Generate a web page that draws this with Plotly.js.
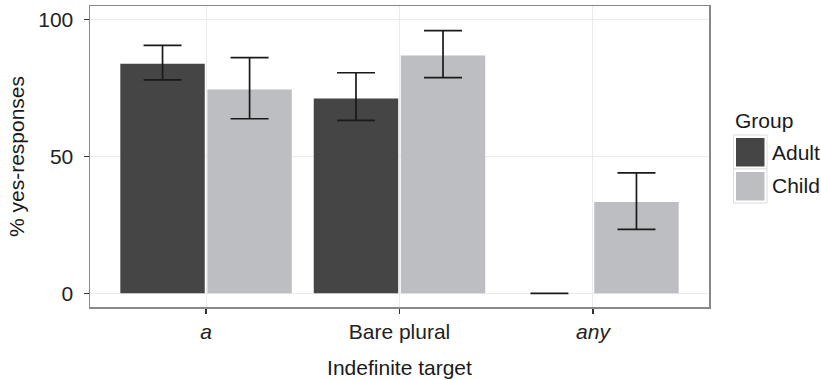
<!DOCTYPE html>
<html>
<head>
<meta charset="utf-8">
<script src="https://cdn.plot.ly/plotly-3.0.1.min.js"></script>
<style>html,body{margin:0;padding:0;background:#fff;}</style>
</head>
<body>
<div id="chart" style="width:821px;height:380px;"></div>
<script>
// ---- data ----
const categories = ["a", "Bare plural", "any"];
const tickLabels = ["<i>a</i>", "Bare plural", "<i>any</i>"];
const groups = ["Adult", "Child"];
const adultValues = [83.9, 71.2, 0];
const adultUpper = [90.6, 80.6, 0];
const adultLower = [78.0, 63.2, 0];
const childValues = [74.5, 86.9, 33.4];
const childUpper = [86.1, 96.0, 44.0];
const childLower = [63.8, 78.8, 23.4];

const colors = {Adult: "#454545", Child: "#bdbec1"};
const FONT = "Liberation Sans, Arial, Helvetica, sans-serif";

function errPlus(v, u) { return v.map((x, i) => u[i] - x); }
function errMinus(v, l) { return v.map((x, i) => x - l[i]); }

const errStyle = {type: "data", symmetric: false, color: "#1a1a1a", thickness: 1.7, width: 19, visible: true};

const traces = [
  {
    type: "bar", name: "Adult", x: categories, y: adultValues,
    marker: {color: colors.Adult},
    error_y: Object.assign({}, errStyle, {array: errPlus(adultValues, adultUpper), arrayminus: errMinus(adultValues, adultLower)}),
    showlegend: false, hoverinfo: "skip"
  },
  {
    type: "bar", name: "Child", x: categories, y: childValues,
    marker: {color: colors.Child},
    error_y: Object.assign({}, errStyle, {array: errPlus(childValues, childUpper), arrayminus: errMinus(childValues, childLower)}),
    showlegend: false, hoverinfo: "skip"
  }
];

// plot area pixel geometry
const L = 90, R = 709, T = 6, B = 307;
const px = p => (p - L) / (R - L);
const py = p => (B - p) / (B - T);

const shapes = [];
const annotations = [];
// custom legend
annotations.push({xref: "paper", yref: "paper", x: px(733), y: py(120.5), xanchor: "left", yanchor: "middle",
  text: "Group", showarrow: false, font: {family: FONT, size: 21, color: "#1a1a1a"}});
groups.forEach((g, i) => {
  const top = 135 + i * 34;
  shapes.push({type: "rect", xref: "paper", yref: "paper", x0: px(733.5), x1: px(767), y0: py(top), y1: py(top + 34),
    line: {color: "#dcdcdc", width: 1}, fillcolor: "#ffffff", layer: "above"});
  shapes.push({type: "rect", xref: "paper", yref: "paper", x0: px(736), x1: px(764.5), y0: py(top + 3), y1: py(top + 31.5),
    line: {width: 0}, fillcolor: colors[g], layer: "above"});
  annotations.push({xref: "paper", yref: "paper", x: px(770), y: py(top + 17), xanchor: "left", yanchor: "middle",
    text: g, showarrow: false, font: {family: FONT, size: 21, color: "#1a1a1a"}});
});

const layout = {
  width: 821, height: 380,
  margin: {l: L, r: 821 - R, t: T, b: 380 - B, pad: 0},
  paper_bgcolor: "#ffffff", plot_bgcolor: "#ffffff",
  font: {family: FONT, size: 21, color: "#222"},
  barmode: "group", bargap: 0.1, bargroupgap: 0.03,
  showlegend: false,
  xaxis: {
    type: "category", range: [-0.6, 2.6],
    tickmode: "array", tickvals: categories, ticktext: tickLabels,
    showgrid: true, gridcolor: "#ebebeb", gridwidth: 1,
    ticks: "outside", ticklen: 5, tickwidth: 1.5, tickcolor: "#333",
    showline: true, mirror: true, linecolor: "#888", linewidth: 1.5,
    tickfont: {family: FONT, size: 21, color: "#222"},
    title: {text: "Indefinite target", font: {family: FONT, size: 21, color: "#1a1a1a"}, standoff: 18},
    automargin: false
  },
  yaxis: {
    range: [-5, 105], tickmode: "array", tickvals: [0, 50, 100],
    showgrid: true, gridcolor: "#ebebeb", gridwidth: 1, zeroline: false,
    ticks: "outside", ticklen: 5, tickwidth: 1.5, tickcolor: "#333",
    ticklabelstandoff: 6,
    showline: true, mirror: true, linecolor: "#888", linewidth: 1.5,
    tickfont: {family: FONT, size: 21, color: "#222"},
    title: {text: "% yes-responses", font: {family: FONT, size: 21, color: "#1a1a1a"}, standoff: 8},
    automargin: false
  },
  shapes: shapes,
  annotations: annotations
};

Plotly.newPlot("chart", traces, layout, {staticPlot: true, displayModeBar: false});
</script>
</body>
</html>
